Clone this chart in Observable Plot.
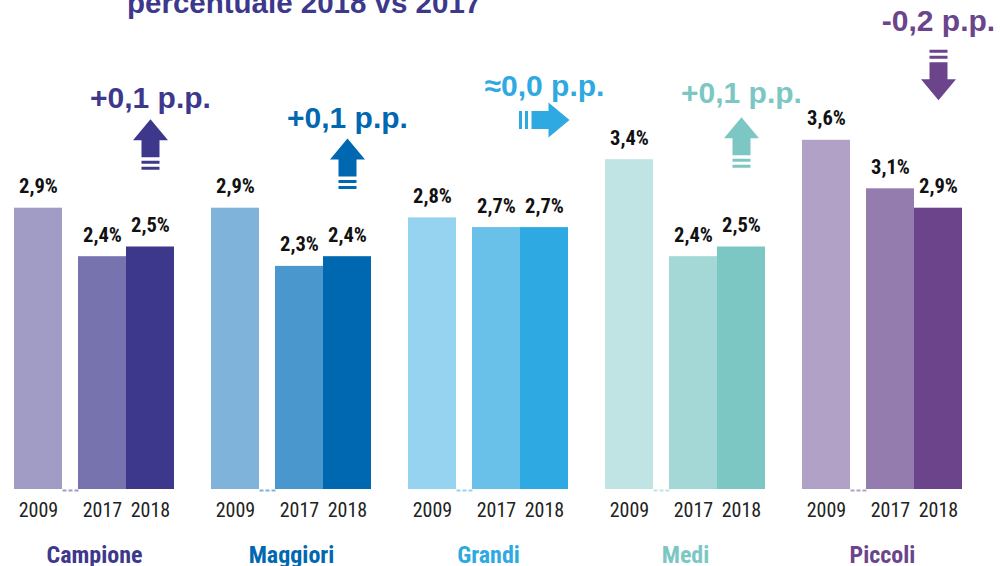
<!DOCTYPE html>
<html><head><meta charset="utf-8">
<script src="https://cdn.jsdelivr.net/npm/d3@7"></script>
<script src="https://cdn.jsdelivr.net/npm/@observablehq/plot@0.6"></script>
<style>
html,body{margin:0;padding:0;background:#fff;overflow:hidden}
#wrap{position:relative;width:1000px;height:566px}
#title{position:absolute;left:127px;top:-12px;font:bold 29.5px/1 "Liberation Sans",Arial,sans-serif;color:#3d388c;white-space:nowrap;z-index:2}
</style></head><body><div id="wrap"><div id="title">percentuale 2018 vs 2017</div></div>
<script>
// ---- data ----
const groups = ["Campione", "Maggiori", "Grandi", "Medi", "Piccoli"];
const years = ["2009", "2017", "2018"];
const v2009 = [2.9, 2.9, 2.8, 3.4, 3.6];
const v2017 = [2.4, 2.3, 2.7, 2.4, 3.1];
const v2018 = [2.5, 2.4, 2.7, 2.5, 2.9];
const deltaLabels = ["+0,1 p.p.", "+0,1 p.p.", "≈0,0 p.p.", "+0,1 p.p.", "-0,2 p.p."];
const deltaDir = ["up", "up", "right", "up", "down"];

// ---- styles / layout ----
const c2009 = ["#a09cc6", "#7fb3d9", "#96d3f0", "#bfe4e3", "#b1a1c7"];
const c2017 = ["#7673ae", "#4a97cd", "#69c1ea", "#a4d8d6", "#957cae"];
const c2018 = ["#3d388c", "#0067b1", "#2ea9e1", "#7cc7c4", "#6b448b"];
const slot = {"2009": [0, 1], "2017": [1.3333, 2.3333], "2018": [2.3333, 3.3333]};
const annTextY = [3.93, 3.73, 4.06, 3.98, 4.73];
const annArrowY = [3.56, 3.36, 3.81, 3.58, 4.27];

const vals = [v2009, v2017, v2018];
const cols = [c2009, c2017, c2018];
const bars = groups.flatMap((g, i) => years.map((y, j) => ({
  group: g, year: y, value: vals[j][i], color: cols[j][i],
  x1: slot[y][0], x2: slot[y][1], xm: (slot[y][0] + slot[y][1]) / 2
})));
const ann = groups.map((g, i) => ({
  group: g, label: deltaLabels[i], dir: deltaDir[i], color: c2018[i],
  ty: annTextY[i], ay: annArrowY[i], gap: c2009[i]
}));

const shape = [[0,-25],[17.5,-4],[9,-4],[9,13],[-9,13],[-9,-4],[-17.5,-4]];
const line1 = [[-9,16.5],[9,16.5],[9,19.5],[-9,19.5]];
const line2 = [[-9,22.5],[9,22.5],[9,25.5],[-9,25.5]];
function arrowSymbol(angle) {
  return {
    draw(ctx, size) {
      const k = Math.sqrt(size / Math.PI) / 10;
      const c = Math.cos(angle), s = Math.sin(angle);
      const poly = (arr) => {
        arr.forEach(([x, y], i) => {
          const X = k * (x * c - y * s), Y = k * (x * s + y * c);
          i ? ctx.lineTo(X, Y) : ctx.moveTo(X, Y);
        });
        ctx.closePath();
      };
      poly(shape); poly(line1); poly(line2);
    }
  };
}
const angles = {up: 0, right: Math.PI / 2, down: Math.PI};

const narrow = '"Liberation Sans Narrow", "Roboto Condensed", "DejaVu Sans Condensed", sans-serif';
const xMid = (slot["2018"][0] + slot["2018"][1]) / 2;

const chart = Plot.plot({
  width: 1000,
  height: 566,
  marginLeft: 13,
  marginRight: 38,
  marginTop: 4,
  marginBottom: 77,
  fx: {domain: groups, paddingInner: 0.189, paddingOuter: 0, axis: null},
  x: {domain: [0, 3.3333], axis: null},
  y: {domain: [0, 5], axis: null},
  color: {type: "identity"},
  style: {overflow: "visible", background: "transparent"},
  marks: [
    Plot.rect(bars, {fx: "group", x1: "x1", x2: "x2", y1: 0, y2: "value", fill: "color"}),
    Plot.link(ann, {fx: "group", x1: slot["2009"][1], x2: slot["2017"][0], y1: 0, y2: 0, stroke: "gap", strokeWidth: 2, strokeDasharray: "4,2", dy: 1}),
    Plot.text(bars, {fx: "group", x: "xm", y: "value", text: d => d.value.toFixed(1).replace(".", ",") + "%",
      lineAnchor: "bottom", dy: -15, fontFamily: narrow, fontWeight: "bold", fontSize: 20.5, fill: "#111"}),
    Plot.text(bars, {fx: "group", x: "xm", y: 0, text: "year", lineAnchor: "bottom", dy: 27,
      fontFamily: narrow, fontSize: 20, fill: "#222"}),
    Plot.text(ann, {fx: "group", x: 1.6667, y: 0, text: "group", lineAnchor: "bottom", dy: 73,
      fontFamily: narrow, fontWeight: "bold", fontSize: 24, fill: "color"}),
    Plot.text(ann, {fx: "group", x: xMid, y: "ty", text: "label", lineAnchor: "bottom",
      fontFamily: '"Liberation Sans", Arial, sans-serif', fontWeight: "bold", fontSize: 30, fill: "color"}),
    ...Object.keys(angles).map(dir => Plot.dot(ann.filter(d => d.dir === dir), {
      fx: "group", x: xMid, y: "ay", r: 10, symbol: arrowSymbol(angles[dir]), fill: "color", stroke: "none"
    }))
  ]
});
document.getElementById("wrap").appendChild(chart);
</script>
</body></html>
